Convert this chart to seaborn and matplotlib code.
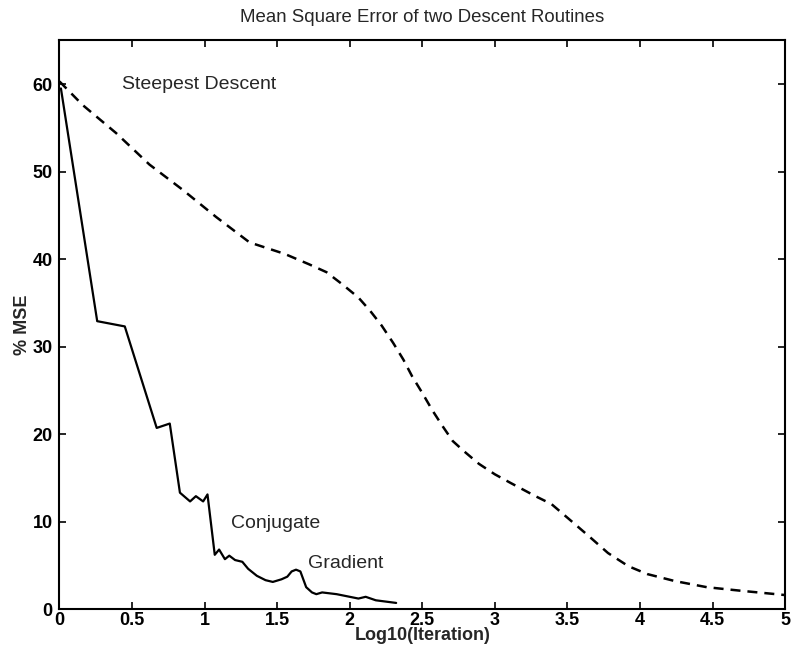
import matplotlib
matplotlib.use("Agg")
import matplotlib.pyplot as plt
import seaborn as sns
import pandas as pd

# Steepest Descent (dashed)
sd_x = [0.0, 0.16, 0.39, 0.62, 0.85, 1.08, 1.31, 1.55, 1.72, 1.84, 1.95, 2.06, 2.14,
        2.22, 2.30, 2.37, 2.43, 2.50, 2.57, 2.64, 2.71, 2.79, 2.89, 3.0, 3.11, 3.28,
        3.39, 3.51, 3.65, 3.78, 3.92, 4.05, 4.24, 4.46, 4.69, 5.0]
sd_y = [60.3, 57.6, 54.4, 50.8, 47.9, 44.8, 41.9, 40.6, 39.4, 38.5, 37.1, 35.6, 34.1,
        32.4, 30.4, 28.5, 26.6, 24.7, 22.7, 20.9, 19.2, 18.0, 16.6, 15.4, 14.4, 12.9,
        12.0, 10.3, 8.3, 6.4, 4.9, 4.0, 3.2, 2.5, 2.1, 1.6]

# Conjugate Gradient (solid)
cg_x = [0.01, 0.26, 0.45, 0.67, 0.76, 0.83, 0.90, 0.94, 0.99, 1.02, 1.07, 1.10,
        1.14, 1.17, 1.21, 1.26, 1.30, 1.36, 1.42, 1.47, 1.53, 1.57, 1.60, 1.63, 1.66,
        1.70, 1.74, 1.77, 1.81, 1.91, 2.0, 2.06, 2.11, 2.18, 2.32]
cg_y = [59.5, 32.9, 32.3, 20.7, 21.2, 13.3, 12.3, 12.9, 12.3, 13.1, 6.2, 6.8,
        5.7, 6.1, 5.6, 5.4, 4.6, 3.8, 3.3, 3.1, 3.4, 3.7, 4.3, 4.5, 4.3,
        2.5, 1.9, 1.7, 1.9, 1.7, 1.4, 1.2, 1.4, 1.0, 0.7]

x_ticks = [0, 0.5, 1, 1.5, 2, 2.5, 3, 3.5, 4, 4.5, 5]
x_tick_labels = ["0", "0.5", "1", "1.5", "2", "2.5", "3", "3.5", "4", "4.5", "5"]
y_ticks = [0, 10, 20, 30, 40, 50, 60]
y_tick_labels = ["0", "10", "20", "30", "40", "50", "60"]

sns.set_style("ticks")
plt.rcParams["font.family"] = ["Liberation Sans", "DejaVu Sans"]

fig = plt.figure(figsize=(7.93, 6.5), dpi=100)
ax = fig.add_axes([0.075, 0.063, 0.915, 0.875])

sd = pd.DataFrame({"x": sd_x, "y": sd_y})
cg = pd.DataFrame({"x": cg_x, "y": cg_y})

sns.lineplot(data=sd, x="x", y="y", ax=ax, color="black", linewidth=1.8,
             dashes=False, sort=False, estimator=None)
ax.lines[-1].set_dashes((4, 2.8))
sns.lineplot(data=cg, x="x", y="y", ax=ax, color="black", linewidth=1.6,
             sort=False, estimator=None)

ax.set_xlim(0, 5)
ax.set_ylim(0, 65)
ax.set_xticks(x_ticks)
ax.set_xticklabels(x_tick_labels, fontsize=13, fontweight="bold")
ax.set_yticks(y_ticks)
ax.set_yticklabels(y_tick_labels, fontsize=13, fontweight="bold")
ax.tick_params(axis="x", direction="in", length=5, width=1.2, top=True, pad=2,
               colors="black")
ax.tick_params(axis="y", direction="in", length=5, width=1.2, right=True, pad=5,
               colors="black")
for s in ax.spines.values():
    s.set_visible(True)
    s.set_linewidth(1.5)
    s.set_color("black")

ax.set_xlabel("Log10(Iteration)", fontsize=13, fontweight="bold", labelpad=-1)
ax.set_ylabel("% MSE", fontsize=13, fontweight="bold", labelpad=1)
ax.set_title("Mean Square Error of two Descent Routines", fontsize=13.4, pad=13)

ax.text(0.43, 60, "Steepest Descent", fontsize=14, va="center", ha="left")
ax.text(1.18, 9.8, "Conjugate", fontsize=14, va="center", ha="left")
ax.text(1.71, 5.2, "Gradient", fontsize=14, va="center", ha="left")

fig.savefig("out.png", dpi=100)
